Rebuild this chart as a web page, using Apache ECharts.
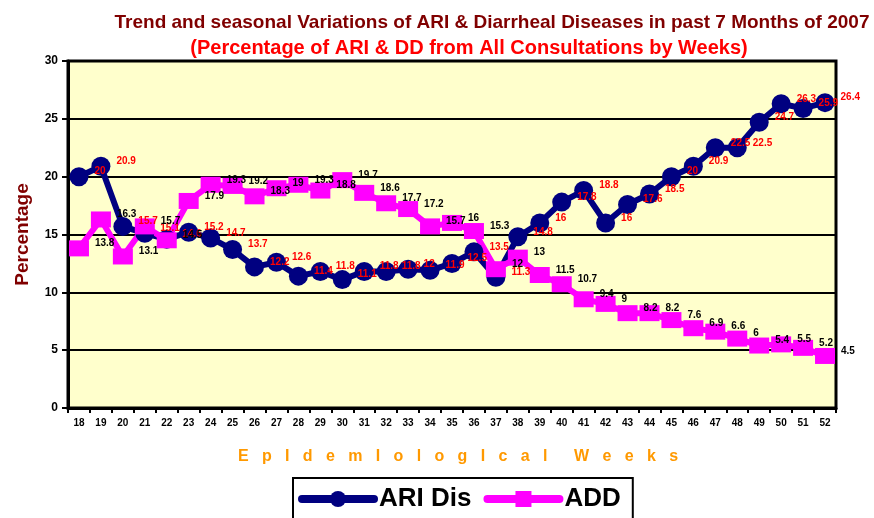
<!DOCTYPE html>
<html>
<head>
<meta charset="utf-8">
<script src="https://cdn.jsdelivr.net/npm/echarts@6/dist/echarts.min.js"></script>
<style>html,body{margin:0;padding:0;background:#fff;}#c{width:874px;height:518px;}</style>
</head>
<body>
<div id="c"></div>
<script>
const weeks = ['18','19','20','21','22','23','24','25','26','27','28','29','30','31','32','33','34','35','36','37','38','39','40','41','42','43','44','45','46','47','48','49','50','51','52'];
const ariDis = [20,20.9,15.7,15.1,14.6,15.2,14.7,13.7,12.2,12.6,11.4,11.8,11.1,11.8,11.8,12,11.9,12.5,13.5,11.3,14.8,16,17.8,18.8,16,17.6,18.5,20,20.9,22.5,22.5,24.7,26.3,25.9,26.4];
const addVals = [13.8,16.3,13.1,15.7,14.5,17.9,19.3,19.2,18.3,19,19.3,18.8,19.7,18.6,17.7,17.2,15.7,16,15.3,12,13,11.5,10.7,9.4,9,8.2,8.2,7.6,6.9,6.6,6,5.4,5.5,5.2,4.5];
const yTicks = {min:0, max:30, interval:5};
const titleText = 'Trend and seasonal Variations of ARI & Diarrheal Diseases in past 7 Months of 2007';
const subTitleText = '(Percentage of ARI & DD from All Consultations by Weeks)';
const xName = 'E   p   I   d   e   m   I   o   l   o   g   I   c   a   l      W   e   e   k   s';

const chart = echarts.init(document.getElementById('c'), null, {renderer:'canvas'});
chart.setOption({
  animation:false,
  backgroundColor:'#ffffff',
  title:[
    {text:titleText, left:487, top:8, textAlign:'center',
     textStyle:{fontFamily:'Arial, Liberation Sans', fontWeight:'bold', fontSize:19, color:'#800000'}},
    {text:subTitleText, left:464, top:33, textAlign:'center',
     textStyle:{fontFamily:'Arial, Liberation Sans', fontWeight:'bold', fontSize:20, color:'#FF0000'}}
  ],
  grid:{left:68, right:38, top:61, bottom:110, show:true, backgroundColor:'#FFFFCC', borderColor:'#000', borderWidth:3},
  legend:{
    left:293, top:478, padding:[8,12,30,5], borderColor:'#000', borderWidth:2, backgroundColor:'#fff',
    itemWidth:72, itemHeight:20, itemGap:12,
    lineStyle:{width:8, cap:'round'},
    textStyle:{fontFamily:'Arial, Liberation Sans', fontWeight:'bold', fontSize:26, color:'#000'},
    data:['ARI Dis','ADD']
  },
  xAxis:{
    type:'category', data:weeks, boundaryGap:true,
    name:xName, nameLocation:'middle', nameGap:41,
    nameTextStyle:{fontFamily:'Arial, Liberation Sans', fontWeight:'bold', fontSize:16, color:'#FF9900', padding:[0,0,0,12]},
    axisLine:{lineStyle:{color:'#000', width:3}},
    axisTick:{show:true, alignWithLabel:false, length:5, lineStyle:{color:'#000', width:2}},
    axisLabel:{interval:0, margin:10, fontFamily:'Arial, Liberation Sans', fontWeight:'bold', fontSize:10, color:'#000'}
  },
  yAxis:{
    type:'value', min:yTicks.min, max:yTicks.max, interval:yTicks.interval,
    name:'Percentage', nameLocation:'middle', nameGap:36, nameRotate:90,
    nameTextStyle:{fontFamily:'Arial, Liberation Sans', fontWeight:'bold', fontSize:19, color:'#800000'},
    axisLine:{show:true, lineStyle:{color:'#000', width:3}},
    axisTick:{show:true, length:6, lineStyle:{color:'#000', width:2}},
    axisLabel:{margin:10, fontFamily:'Arial, Liberation Sans', fontWeight:'bold', fontSize:12, color:'#000'},
    splitLine:{show:true, lineStyle:{color:'#000', width:2}}
  },
  series:[
    {name:'ARI Dis', type:'line', data:ariDis, symbol:'circle', symbolSize:19,
     itemStyle:{color:'#000080'}, lineStyle:{color:'#000080', width:6},
     label:{show:true, position:'right', distance:6, offset:[0,-5], color:'#FF0000',
            fontFamily:'Arial, Liberation Sans', fontWeight:'bold', fontSize:10}},
    {name:'ADD', type:'line', data:addVals, symbol:'rect', symbolSize:[20,16],
     itemStyle:{color:'#FF00FF'}, lineStyle:{color:'#FF00FF', width:6},
     label:{show:true, position:'right', distance:6, offset:[0,-5], color:'#000',
            fontFamily:'Arial, Liberation Sans', fontWeight:'bold', fontSize:10}}
  ]
});
</script>
</body>
</html>
